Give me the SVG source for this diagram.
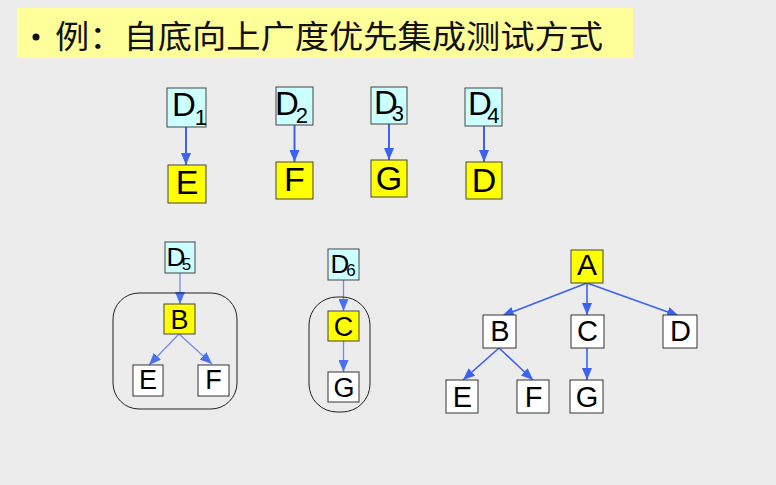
<svg xmlns="http://www.w3.org/2000/svg" width="776" height="485" viewBox="0 0 776 485">
<defs>
<style>
.bg{fill:#ECECEC}
.cyan{fill:#CCFFFF;stroke:#444;stroke-width:1}
.yel{fill:#FFFF00;stroke:#444;stroke-width:1}
.wht{fill:#FFFFFF;stroke:#333;stroke-width:1}
.grp{fill:none;stroke:#222;stroke-width:1}
.t{font-family:"Liberation Sans",Arial,sans-serif;fill:#000;text-anchor:middle}
.d{font-family:"Liberation Sans",Arial,sans-serif;fill:#000}
.a{stroke:#3B62F0;stroke-width:2;fill:none;marker-end:url(#ah)}
.a2{stroke:#6F8FE6;stroke-width:1.3;fill:none;marker-end:url(#ah2)}
.a3{stroke:#3B62F0;stroke-width:1.6;fill:none;marker-end:url(#ah)}
</style>
<marker id="ah" markerUnits="userSpaceOnUse" markerWidth="12" markerHeight="10" refX="12" refY="5" orient="auto">
<path d="M0,0 L12,5 L0,10 z" fill="#3B62F0"/>
</marker>
<marker id="ah2" markerUnits="userSpaceOnUse" markerWidth="12" markerHeight="10" refX="12" refY="5" orient="auto">
<path d="M0,0 L12,5 L0,10 z" fill="#4A70F0"/>
</marker>
</defs>
<rect class="bg" x="0" y="0" width="776" height="485"/>

<g id="title">
<rect x="17" y="8" width="616" height="50" fill="#FFFF99"/>
<circle cx="36" cy="37" r="3.5" fill="#111"/>
<text x="55" y="48" font-family="'Noto Sans CJK SC',sans-serif" font-size="32" fill="#111" textLength="548" lengthAdjust="spacingAndGlyphs">例：自底向上广度优先集成测试方式</text>
</g>

<g id="connectors">
<line class="a" x1="186" y1="127" x2="186" y2="165"/>
<line class="a" x1="294.5" y1="125" x2="294.5" y2="162"/>
<line class="a" x1="389" y1="124" x2="389" y2="160"/>
<line class="a" x1="484" y1="126" x2="484" y2="162"/>
<line class="a2" x1="180" y1="273" x2="180" y2="304"/>
<line class="a2" x1="179" y1="334" x2="149" y2="365"/>
<line class="a2" x1="179" y1="334" x2="212" y2="364"/>
<line class="a2" x1="343.5" y1="280" x2="343.5" y2="311"/>
<line class="a2" x1="343.5" y1="341" x2="343.5" y2="372"/>
<line class="a3" x1="587" y1="283" x2="502" y2="316"/>
<line class="a3" x1="587" y1="283" x2="587" y2="315"/>
<line class="a3" x1="587" y1="283" x2="679" y2="316"/>
<line class="a3" x1="499" y1="348" x2="463" y2="380"/>
<line class="a3" x1="499" y1="348" x2="533" y2="380"/>
<line class="a3" x1="587" y1="348" x2="587" y2="380"/>
</g>

<g id="D1"><rect class="cyan" x="167" y="88" width="39" height="39"/><text class="d" x="172" y="116" font-size="33">D<tspan dx="-1" dy="9" font-size="22">1</tspan></text></g>
<g id="D2"><rect class="cyan" x="276" y="87" width="37" height="38"/><text class="d" x="275" y="115" font-size="33">D<tspan dx="-3" dy="8" font-size="22">2</tspan></text></g>
<g id="D3"><rect class="cyan" x="371" y="87" width="36" height="37"/><text class="d" x="374" y="114" font-size="33">D<tspan dx="-6" dy="7" font-size="22">3</tspan></text></g>
<g id="D4"><rect class="cyan" x="465" y="88" width="37" height="38"/><text class="d" x="468" y="115" font-size="33">D<tspan dx="-4.5" dy="8" font-size="22">4</tspan></text></g>

<g id="E1"><rect class="yel" x="168" y="165" width="38" height="38"/><text class="t" x="187" y="194" font-size="34">E</text></g>
<g id="F1"><rect class="yel" x="276" y="162" width="37" height="37"/><text class="t" x="294.5" y="191" font-size="34">F</text></g>
<g id="G1"><rect class="yel" x="371" y="160" width="36" height="37"/><text class="t" x="389" y="190" font-size="34">G</text></g>
<g id="Dd1"><rect class="yel" x="466" y="162" width="36" height="37"/><text class="t" x="484" y="192" font-size="34">D</text></g>

<g id="cluster5">
<rect class="grp" x="113" y="293" width="124" height="116" rx="26" ry="26"/>
</g>
<g id="D5"><rect class="cyan" x="165" y="242" width="30" height="31"/><text class="d" x="166.5" y="266" font-size="26">D<tspan dx="-3.5" dy="4" font-size="17">5</tspan></text></g>
<g id="B5"><rect class="yel" x="164" y="304" width="31" height="30"/><text class="t" x="179.5" y="328.5" font-size="27">B</text></g>
<g id="E5"><rect class="wht" x="133" y="365" width="30" height="31"/><text class="t" x="148" y="389" font-size="27">E</text></g>
<g id="F5"><rect class="wht" x="198" y="365" width="31" height="31"/><text class="t" x="213.5" y="389" font-size="27">F</text></g>

<g id="cluster6">
<rect class="grp" x="309" y="297" width="61" height="115" rx="28" ry="28"/>
</g>
<g id="D6"><rect class="cyan" x="328" y="249" width="31" height="31"/><text class="d" x="330.5" y="273" font-size="26">D<tspan dx="-3" dy="3" font-size="17">6</tspan></text></g>
<g id="C6"><rect class="yel" x="328" y="311" width="31" height="30"/><text class="t" x="343.5" y="335.5" font-size="27">C</text></g>
<g id="G6"><rect class="wht" x="328" y="372" width="31" height="30"/><text class="t" x="344" y="396.5" font-size="27">G</text></g>

<g id="A"><rect class="yel" x="571" y="250" width="32" height="33"/><text class="t" x="587" y="275" font-size="30">A</text></g>
<g id="B"><rect class="wht" x="483" y="315" width="33" height="33"/><text class="t" x="500" y="341" font-size="29">B</text></g>
<g id="C"><rect class="wht" x="571" y="315" width="33" height="33"/><text class="t" x="587.5" y="341" font-size="29">C</text></g>
<g id="D"><rect class="wht" x="663" y="315" width="34" height="33"/><text class="t" x="680.5" y="341" font-size="29">D</text></g>
<g id="E"><rect class="wht" x="446" y="380" width="32" height="33"/><text class="t" x="462.5" y="407" font-size="29">E</text></g>
<g id="F"><rect class="wht" x="517" y="380" width="32" height="33"/><text class="t" x="533.5" y="407" font-size="29">F</text></g>
<g id="G"><rect class="wht" x="570" y="380" width="33" height="33"/><text class="t" x="587" y="407" font-size="29">G</text></g>
</svg>
